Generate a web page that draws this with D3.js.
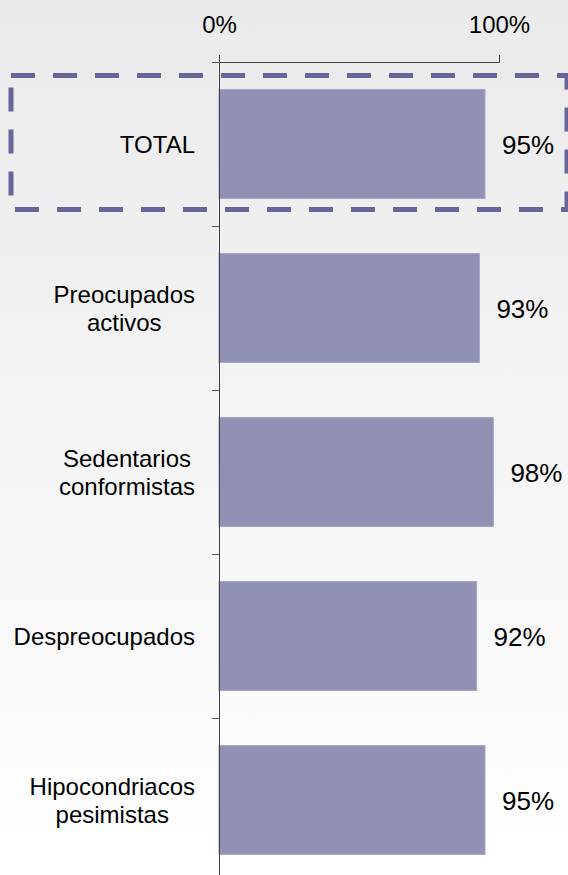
<!DOCTYPE html>
<html>
<head>
<meta charset="utf-8">
<script src="https://cdn.jsdelivr.net/npm/d3@7"></script>
<style>
  html, body { margin: 0; padding: 0; background: #fff; }
  text { font-family: "Liberation Sans", Arial, sans-serif; fill: #000; }
</style>
</head>
<body>
<div class="bar-chart"></div>
<script>
// chart data
const categories = [['TOTAL'], ['Preocupados', 'activos'], ['Sedentarios', 'conformistas'], ['Despreocupados'], ['Hipocondriacos', 'pesimistas']];
const values = [95, 93, 98, 92, 95];
const xTicks = [0, 100];

const width = 568;
const height = 875;
const margin = { top: 62, left: 219 };
const plotW = 280;
const step = 164;

const svg = d3.select('.bar-chart').append('svg')
  .attr('width', width)
  .attr('height', height);

// background gradient
const grad = svg.append('defs').append('linearGradient')
  .attr('id', 'bg-gradient')
  .attr('x1', 0).attr('y1', 0).attr('x2', 0).attr('y2', 1);
grad.append('stop').attr('offset', '0%').attr('stop-color', '#eaeaea');
grad.append('stop').attr('offset', '100%').attr('stop-color', '#ffffff');

svg.append('rect')
  .attr('width', width)
  .attr('height', height)
  .attr('fill', 'url(#bg-gradient)');

const keys = categories.map(d => d.join(' '));
const x = d3.scaleLinear().domain([0, 100]).range([margin.left, margin.left + plotW]);
const yBand = d3.scaleBand()
  .domain(keys)
  .range([margin.top, margin.top + step * keys.length])
  .paddingInner(0.335)
  .paddingOuter(0.1675);
const yIdx = d3.scaleLinear().domain([0, keys.length]).range([margin.top, margin.top + step * keys.length]);

// dashed highlight box round the TOTAL row
svg.append('rect')
  .attr('x', 11)
  .attr('y', yBand(keys[0]) - 14)
  .attr('width', 556)
  .attr('height', 134)
  .attr('fill', 'none')
  .attr('stroke', '#66669a')
  .attr('stroke-width', 5)
  .attr('stroke-dasharray', '24,18');

// bars
svg.selectAll('.bar')
  .data(values)
  .enter()
  .append('rect')
  .attr('class', 'bar')
  .attr('x', x(0))
  .attr('y', (d, i) => yBand(keys[i]))
  .attr('width', d => x(d) - x(0))
  .attr('height', yBand.bandwidth())
  .attr('fill', '#9191b4')
  .attr('stroke', '#a8a8cc')
  .attr('stroke-width', 1);

// value labels
svg.selectAll('.value')
  .data(values)
  .enter()
  .append('text')
  .attr('class', 'value')
  .attr('x', d => x(d) + 17)
  .attr('y', (d, i) => yBand(keys[i]) + yBand.bandwidth() / 2)
  .attr('dy', '0.38em')
  .style('font-size', '26px')
  .text(d => `${d}%`);

// category labels, right edge of the block at x=195
const lineH = 28;
categories.forEach((lines, i) => {
  const cy = yBand(keys[i]) + yBand.bandwidth() / 2;
  const t = svg.append('text')
    .attr('text-anchor', 'middle')
    .style('font-size', '24px');
  const spans = lines.map((s, j) => t.append('tspan')
    .attr('x', 0)
    .attr('y', cy - (lines.length - 1) * lineH / 2 + j * lineH)
    .attr('dy', '0.36em')
    .text(s));
  const maxW = d3.max(spans, s => s.node().getComputedTextLength());
  spans.forEach(s => s.attr('x', 195 - maxW / 2));
});

// y axis: ticks on category boundaries
svg.append('g')
  .attr('class', 'y axis')
  .attr('transform', `translate(${margin.left},0)`)
  .call(d3.axisLeft(yIdx).ticks(keys.length).tickSize(7).tickSizeOuter(0).tickFormat(''))
  .call(g => g.select('.domain').attr('stroke', '#404040'))
  .call(g => g.selectAll('.tick line').attr('stroke', '#555'));

// x axis on top
svg.append('g')
  .attr('class', 'x axis')
  .attr('transform', `translate(0,${margin.top})`)
  .call(d3.axisTop(x).tickValues(xTicks).tickSize(7).tickPadding(22).tickFormat(d => `${d}%`))
  .call(g => g.select('.domain').attr('stroke', '#404040'))
  .call(g => g.selectAll('.tick line').attr('stroke', '#404040'))
  .call(g => g.selectAll('.tick text')
    .attr('fill', '#000')
    .style('font-size', '24px')
    .style('font-family', '"Liberation Sans", Arial, sans-serif'));
</script>
</body>
</html>
